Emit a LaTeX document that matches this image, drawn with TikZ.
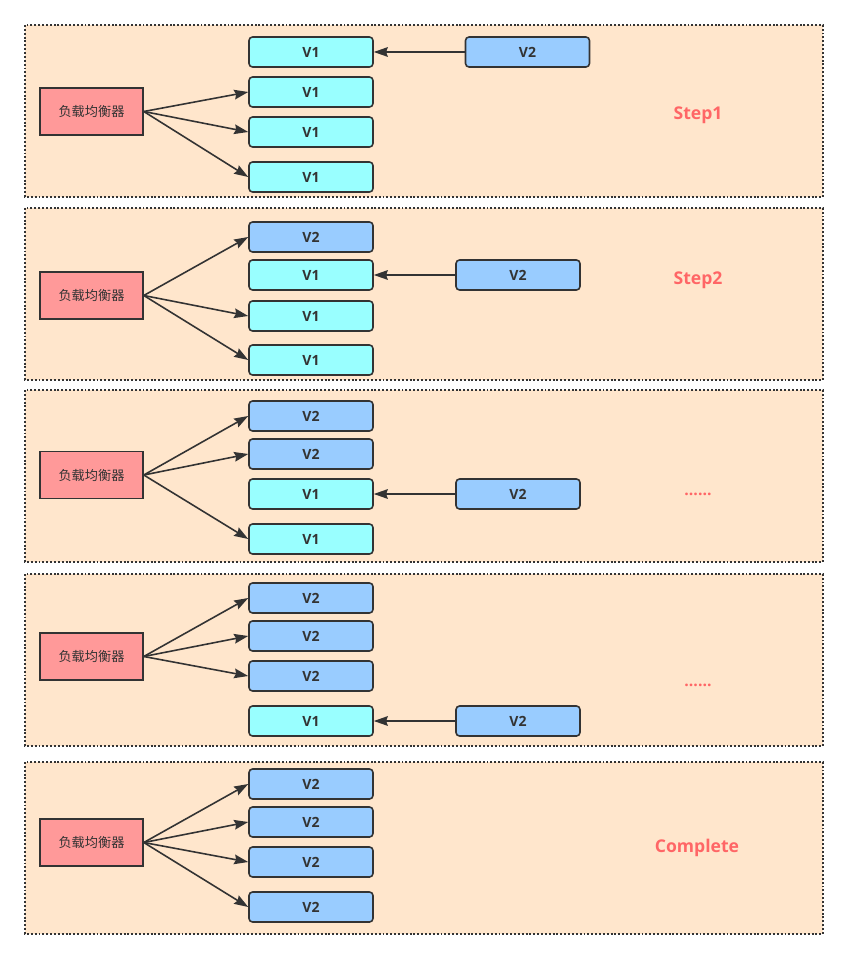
\documentclass[tikz,border=0pt]{standalone}
\usepackage{fontspec}
\setmainfont{Open Sans}
\newfontfamily\cjk{Noto Sans CJK SC}
\usetikzlibrary{arrows.meta,positioning}
\definecolor{dpanel}{HTML}{FFE6CC}
\definecolor{dline}{HTML}{333333}
\definecolor{dred}{HTML}{FF9999}
\definecolor{dcyan}{HTML}{99FFFF}
\definecolor{dsky}{HTML}{99CCFF}
\definecolor{dstep}{HTML}{FF6666}
\tikzset{
  >={Stealth[length=8pt,width=5.5pt,inset=1pt]},
  dframe/.style={fill=dpanel, draw=dline, line width=0.8pt,
                 dash pattern=on 1.1pt off 1.1pt},
  dlbox/.style={rectangle, draw=dline, fill=dred, line width=0.9pt,
                minimum width=2.06cm, minimum height=0.94cm, inner sep=0pt,
                font=\cjk\fontsize{7.5}{8}\selectfont, text=dline},
  dold/.style={rectangle, rounded corners=2pt, draw=dline, fill=dcyan,
               line width=0.9pt, minimum width=2.48cm, minimum height=0.6cm,
               inner sep=0pt, font=\bfseries\fontsize{8}{9}\selectfont, text=dline},
  dnew/.style={dold, fill=dsky},
  dedge/.style={->, dline, line width=0.9pt},
  dtag/.style={dstep, font=\bfseries\fontsize{10}{12}\selectfont},
  ddots/.style={dstep, font=\bfseries\fontsize{9}{10}\selectfont},
}

\begin{document}
\begin{tikzpicture}[x=0.02cm,y=-0.02cm]

  \useasboundingbox (0,0) rectangle (848,959);

  % fundos
  \draw[dframe] (25,25)  rectangle (823,197);
  \draw[dframe] (25,208) rectangle (823,380);
  \draw[dframe] (25,390) rectangle (823,562);
  \draw[dframe] (25,574) rectangle (823,746);
  \draw[dframe] (25,762) rectangle (823,934);

  % step 1
  \node[dlbox] (lb1) at (91.5,111.5) {负载均衡器};
  \node[dold] (a1) at (311,52)  {V1};
  \node[dold] (a2) at (311,92)  {V1};
  \node[dold] (a3) at (311,132) {V1};
  \node[dold] (a4) at (311,177) {V1};
  \node[dnew] (n1) at (527.5,52) {V2};
  \draw[dedge] (n1) -- (a1);
  \draw[dedge] (lb1.east) -- (a2.west);
  \draw[dedge] (lb1.east) -- (a3.west);
  \draw[dedge] (lb1.east) -- (a4.west);
  \node[dtag] (t1) at (698,115) {Step1};

  % step 2
  \node[dlbox] (lb2) at (91.5,295.5) {负载均衡器};
  \node[dnew] (b1) at (311,237) {V2};
  \node[dold] (b2) at (311,275) {V1};
  \node[dold] (b3) at (311,316) {V1};
  \node[dold] (b4) at (311,360) {V1};
  \node[dnew] (n2) at (518,275) {V2};
  \draw[dedge] (n2) -- (b2);
  \draw[dedge] (lb2.east) -- (b1.west);
  \draw[dedge] (lb2.east) -- (b3.west);
  \draw[dedge] (lb2.east) -- (b4.west);
  \node[dtag] (t2) at (698,280) {Step2};

  % step 3
  \node[dlbox] (lb3) at (91.5,475) {负载均衡器};
  \node[dnew] (c1) at (311,416) {V2};
  \node[dnew] (c2) at (311,454) {V2};
  \node[dold] (c3) at (311,494) {V1};
  \node[dold] (c4) at (311,539) {V1};
  \node[dnew] (n3) at (518,494) {V2};
  \draw[dedge] (n3) -- (c3);
  \draw[dedge] (lb3.east) -- (c1.west);
  \draw[dedge] (lb3.east) -- (c2.west);
  \draw[dedge] (lb3.east) -- (c4.west);
  \node[ddots] (t3) at (698,494) {......};

  % step 4
  \node[dlbox] (lb4) at (91.5,656.5) {负载均衡器};
  \node[dnew] (d1) at (311,598) {V2};
  \node[dnew] (d2) at (311,636) {V2};
  \node[dnew] (d3) at (311,676) {V2};
  \node[dold] (d4) at (311,721) {V1};
  \node[dnew] (n4) at (518,721) {V2};
  \draw[dedge] (n4) -- (d4);
  \draw[dedge] (lb4.east) -- (d1.west);
  \draw[dedge] (lb4.east) -- (d2.west);
  \draw[dedge] (lb4.east) -- (d3.west);
  \node[ddots] (t4) at (698,685) {......};

  % fim
  \node[dlbox] (lb5) at (91.5,842.5) {负载均衡器};
  \node[dnew] (e1) at (311,784) {V2};
  \node[dnew] (e2) at (311,822) {V2};
  \node[dnew] (e3) at (311,862) {V2};
  \node[dnew] (e4) at (311,907) {V2};
  \draw[dedge] (lb5.east) -- (e1.west);
  \draw[dedge] (lb5.east) -- (e2.west);
  \draw[dedge] (lb5.east) -- (e3.west);
  \draw[dedge] (lb5.east) -- (e4.west);
  \node[dtag] (t5) at (697,848) {Complete};

\end{tikzpicture}
\end{document}
